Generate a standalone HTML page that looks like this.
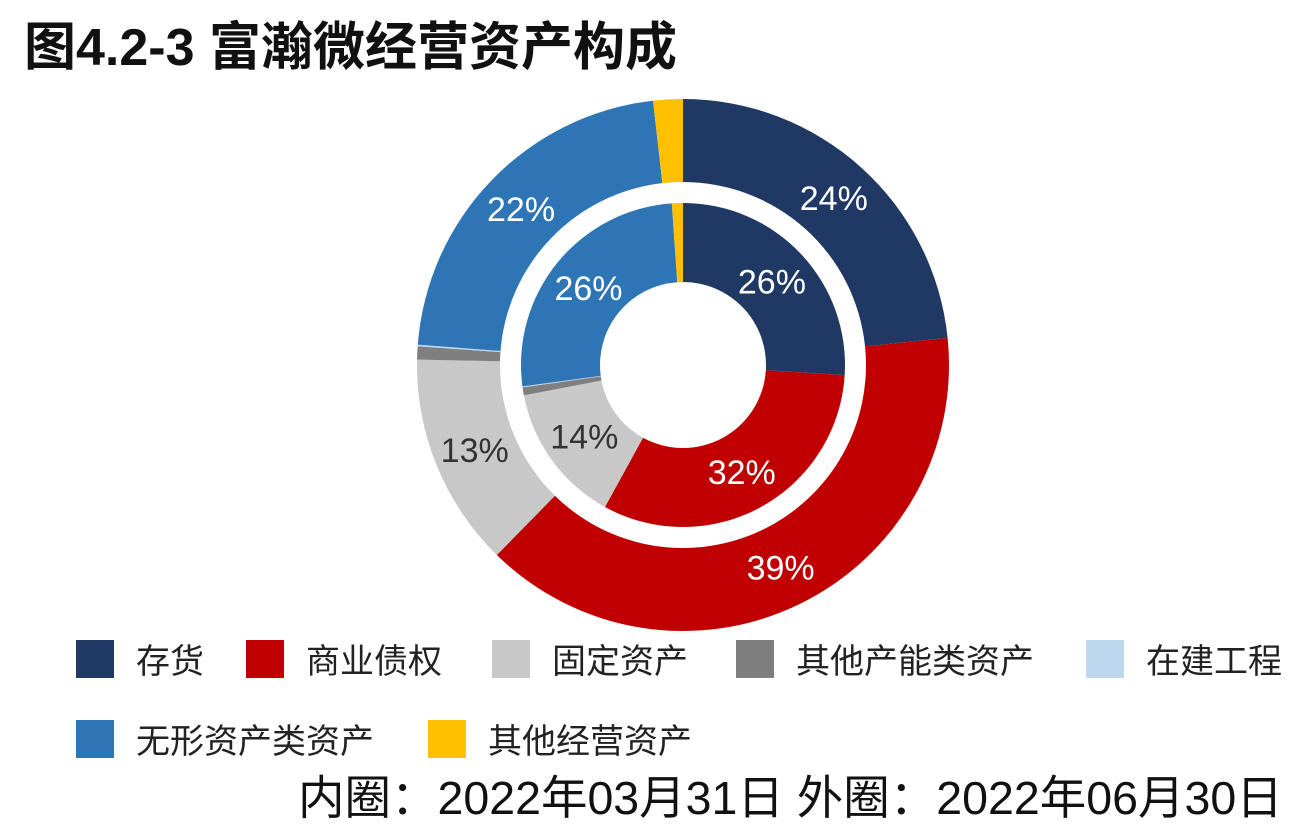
<!DOCTYPE html>
<html><head><meta charset="utf-8"><style>
body{margin:0;background:#fff;width:1314px;height:824px;overflow:hidden;font-family:"Liberation Sans","Noto Sans CJK SC",sans-serif;}
#title{position:absolute;left:24px;top:5px;font-size:52px;font-weight:bold;color:#111;}
.leg{position:absolute;font-size:34px;color:#222;display:flex;align-items:center;}
.sw{width:38px;height:38px;margin-right:22px;}
#note{position:absolute;left:298px;top:761px;font-size:46.5px;color:#111;white-space:nowrap;}
</style></head><body>
<div id="title">图4.2-3 富瀚微经营资产构成</div>
<svg id="chart" width="1314" height="824" style="position:absolute;left:0;top:0"></svg>
<div class="leg" style="left:76px;top:634px"><div class="sw" style="background:#1f3864"></div>存货</div>
<div class="leg" style="left:246px;top:634px"><div class="sw" style="background:#c00000"></div>商业债权</div>
<div class="leg" style="left:492px;top:634px"><div class="sw" style="background:#c8c8c8"></div>固定资产</div>
<div class="leg" style="left:736px;top:634px"><div class="sw" style="background:#7f7f7f"></div>其他产能类资产</div>
<div class="leg" style="left:1086px;top:634px"><div class="sw" style="background:#bdd7ee"></div>在建工程</div>
<div class="leg" style="left:76px;top:714px"><div class="sw" style="background:#2e75b6"></div>无形资产类资产</div>
<div class="leg" style="left:428px;top:714px"><div class="sw" style="background:#ffc000"></div>其他经营资产</div>
<div id="note">内圈：2022年03月31日 外圈：2022年06月30日</div>
<script>
const categories=["存货","商业债权","固定资产","其他产能类资产","在建工程","无形资产类资产","其他经营资产"];
const colors=["#1f3864","#c00000","#c8c8c8","#7f7f7f","#bdd7ee","#2e75b6","#ffc000"];
const outerValues=[23.4,39,13,0.8,0.1,22,1.8];
const innerValues=[26,32,14,0.8,0.1,26,1.1];
const outerLabels=["24%","39%","13%","","","22%",""];
const innerLabels=["26%","32%","14%","","","26%",""];
const svg=document.getElementById('chart');
const NS="http://www.w3.org/2000/svg";
const cx=683,cy=365;
function pt(r,a){return [cx+r*Math.sin(a),cy-r*Math.cos(a)];}
function ring(vals,labels,r0,r1,lr,name){
  const tot=vals.reduce((a,b)=>a+b,0);let a=0;
  vals.forEach((v,i)=>{
    const a1=a+v/tot*2*Math.PI;
    const [x0,y0]=pt(r1,a),[x1,y1]=pt(r1,a1),[x2,y2]=pt(r0,a1),[x3,y3]=pt(r0,a);
    const lg=(a1-a)>Math.PI?1:0;
    const p=document.createElementNS(NS,'path');
    p.setAttribute('d',`M${x0},${y0}A${r1},${r1} 0 ${lg} 1 ${x1},${y1}L${x2},${y2}A${r0},${r0} 0 ${lg} 0 ${x3},${y3}Z`);
    p.setAttribute('fill',colors[i]);
    
    
    svg.appendChild(p);
    if(labels[i]){
      const [tx,ty]=pt(lr,(a+a1)/2);
      const t=document.createElementNS(NS,'text');
      t.setAttribute('x',tx);t.setAttribute('y',ty+12);
      t.setAttribute('text-anchor','middle');
      t.setAttribute('font-size','34');
      t.setAttribute('fill',i==2?'#333':'#fff');
      t.setAttribute('font-family','"Liberation Sans",sans-serif');
      t.textContent=labels[i];
      
      
      svg.appendChild(t);
    }
    a=a1;
  });
}
ring(outerValues,outerLabels,183,266,225,'outer');
ring(innerValues,innerLabels,83,162,122,'inner');
</script>
</body></html>
